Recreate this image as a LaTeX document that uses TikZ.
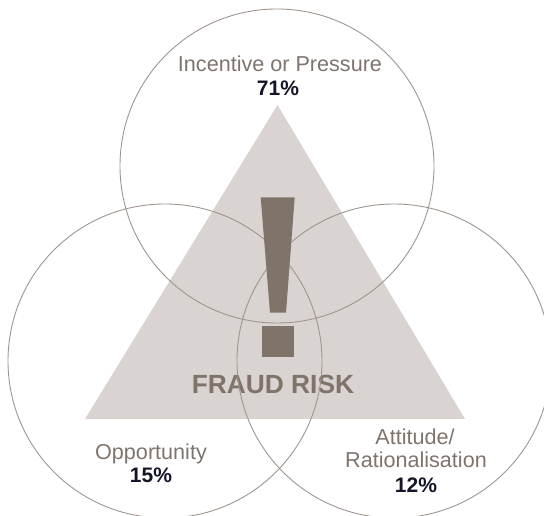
\documentclass[tikz,border=0pt]{standalone}
\usepackage{fontspec}
\setmainfont{Liberation Sans}
\definecolor{trifill}{HTML}{D9D4D1}
\definecolor{excl}{HTML}{80736A}
\definecolor{ringcol}{HTML}{A0958E}
\definecolor{labgray}{HTML}{7F746D}
\definecolor{pctcol}{HTML}{15152A}
\tikzset{
  ring/.style={draw=ringcol, line width=0.9pt},
  lab/.style={anchor=base, text=labgray, font=\fontsize{21.6}{25}\selectfont, inner sep=0pt},
  pct/.style={anchor=base, text=pctcol, font=\fontsize{21}{25}\selectfont\bfseries, inner sep=0pt},
  risk/.style={anchor=base, text=excl, font=\fontsize{26.3}{30}\selectfont\bfseries, inner sep=0pt}
}
\begin{document}
\begin{tikzpicture}[x=1pt,y=1pt]
\useasboundingbox (0,0) rectangle (544,516);
\clip (0,0) rectangle (544,516);
% triangle
\fill[trifill] (85,97) -- (465,97) -- (277.5,411) -- cycle;
% fraud risk text
\node[risk] (risk) at (273,122.7) {FRAUD RISK};
% circles
\draw[ring] (277,350) circle (157);
\draw[ring] (165,155) circle (157);
\draw[ring] (394,155) circle (157);
% exclamation mark
\fill[excl] (260.7,318.7) -- (294.7,318.7) -- (286,203.3) -- (270,203.3) -- cycle;
\fill[excl] (261.7,159.3) rectangle (294,190.3);
% labels
\node[lab] (inc) at (280,444.3) {Incentive or Pressure};
\node[pct] (p71) at (278,420) {71\%};
\node[lab] (opp) at (151,56.7) {Opportunity};
\node[pct] (p15) at (151,33) {15\%};
\node[lab] (att) at (415,71) {Attitude/};
\node[lab] (rat) at (416,48) {Rationalisation};
\node[pct] (p12) at (416,23) {12\%};
\end{tikzpicture}
\end{document}
